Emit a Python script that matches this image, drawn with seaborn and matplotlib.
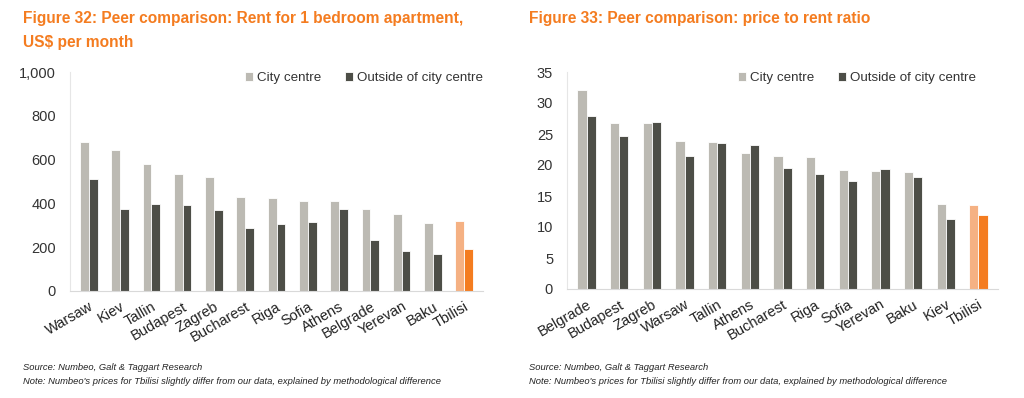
import pandas as pd
import numpy as np
import matplotlib.pyplot as plt
import seaborn as sns

# Rent for 1 bedroom apartment, US$ per month
rent_cities = ['Warsaw', 'Kiev', 'Tallin', 'Budapest', 'Zagreb', 'Bucharest', 'Riga',
               'Sofia', 'Athens', 'Belgrade', 'Yerevan', 'Baku', 'Tbilisi']
rent_centre = [682, 643, 580, 536, 521, 429, 425, 411, 411, 373, 350, 312, 320]
rent_outside = [511, 376, 398, 391, 371, 289, 304, 315, 373, 234, 182, 167, 191]

# Price to rent ratio
ratio_cities = ['Belgrade', 'Budapest', 'Zagreb', 'Warsaw', 'Tallin', 'Athens', 'Bucharest',
                'Riga', 'Sofia', 'Yerevan', 'Baku', 'Kiev', 'Tbilisi']
ratio_centre = [32.1, 26.8, 26.7, 23.8, 23.7, 22.0, 21.5, 21.3, 19.2, 19.0, 18.8, 13.7, 13.6]
ratio_outside = [27.9, 24.7, 27.0, 21.4, 23.5, 23.3, 19.5, 18.6, 17.5, 19.4, 18.0, 11.3, 12.0]

series = ['City centre', 'Outside of city centre']

sns.set_style("white")
plt.rcParams['font.family'] = ['Liberation Sans', 'DejaVu Sans']

ORANGE = '#f47c20'
LIGHT_ORANGE = '#f5b183'
GREY = '#bdbbb1'
DARK = '#4e4f46'


def draw(ax, cities, centre, outside, ymax, step, fmt, legend_x):
    df = pd.DataFrame({'city': cities * 2,
                       'value': centre + outside,
                       'series': [series[0]] * len(cities) + [series[1]] * len(cities)})
    sns.barplot(data=df, x='city', y='value', hue='series', palette=[GREY, DARK],
                width=0.56, edgecolor='white', linewidth=0.6, ax=ax)
    # highlight Tbilisi
    ax.containers[0][-1].set_facecolor(LIGHT_ORANGE)
    ax.containers[1][-1].set_facecolor(ORANGE)
    ax.set_ylim(0, ymax)
    ticks = np.arange(0, ymax + 1, step)
    ax.set_yticks(ticks)
    ax.set_yticklabels([fmt(v) for v in ticks], fontsize=10.5, color='#333333')
    ax.set_xlim(-0.6, len(cities) - 0.4)
    ax.set_xlabel('')
    ax.set_ylabel('')
    plt.setp(ax.get_xticklabels(), rotation=30, ha='right', rotation_mode='anchor',
             fontsize=10.5, color='#222222')
    ax.tick_params(axis='y', length=0, pad=10)
    ax.tick_params(axis='x', length=0, pad=6)
    for s in ['top', 'right']:
        ax.spines[s].set_visible(False)
    ax.spines['left'].set_color('#e6e6e6')
    ax.spines['bottom'].set_color('#d9d9d9')
    ax.legend(loc='upper right', ncol=2, frameon=False, fontsize=9.6, handlelength=0.6,
              handleheight=0.6, handletextpad=0.3, columnspacing=1.8, borderaxespad=0,
              borderpad=0, bbox_to_anchor=(legend_x, 1.0), labelcolor='#333333')


fig = plt.figure(figsize=(10.24, 3.98), dpi=100)
ax1 = fig.add_axes([70 / 1024, 1 - 291 / 398, 413 / 1024, 219 / 398])
ax2 = fig.add_axes([567 / 1024, 1 - 289 / 398, 431 / 1024, 217 / 398])

draw(ax1, rent_cities, rent_centre, rent_outside, 1000, 200, lambda v: f'{int(v):,}', 1.0)
draw(ax2, ratio_cities, ratio_centre, ratio_outside, 35, 5, lambda v: f'{int(v)}', 0.95)

fig.text(23 / 1024, 1 - 18 / 398, 'Figure 32: Peer comparison: Rent for 1 bedroom apartment,',
         color=ORANGE, fontsize=11.2, fontweight='bold', va='center')
fig.text(23 / 1024, 1 - 42 / 398, 'US$ per month',
         color=ORANGE, fontsize=11.2, fontweight='bold', va='center')
fig.text(529 / 1024, 1 - 18 / 398, 'Figure 33: Peer comparison: price to rent ratio',
         color=ORANGE, fontsize=11.2, fontweight='bold', va='center')

source = 'Source: Numbeo, Galt & Taggart Research'
note = "Note: Numbeo's prices for Tbilisi slightly differ from our data, explained by methodological difference"
for x0 in (23, 529):
    fig.text(x0 / 1024, 1 - 367 / 398, source, fontsize=6.75, style='italic', color='#222222', va='center')
    fig.text(x0 / 1024, 1 - 381 / 398, note, fontsize=6.75, style='italic', color='#222222', va='center')

fig.savefig('out.png', dpi=100)
